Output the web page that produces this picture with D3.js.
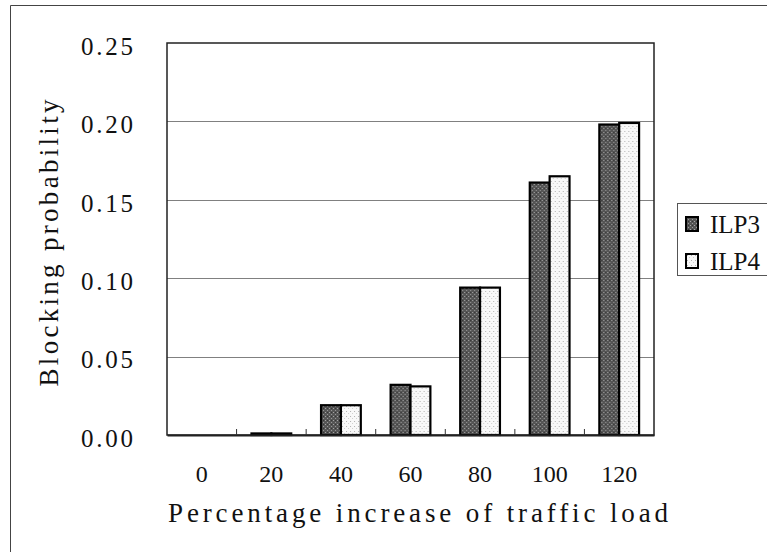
<!DOCTYPE html>
<html>
<head>
<meta charset="utf-8">
<script src="https://cdn.jsdelivr.net/npm/d3@7"></script>
<style>
    body { margin: 0; background: #fff; }
    svg text { font-family: "Liberation Serif", "DejaVu Serif", serif; fill: #111; }
</style>
</head>
<body>
<div id="chart"></div>
<script>
// Chart data
var categories = ['0', '20', '40', '60', '80', '100', '120'];
var seriesNames = ['ILP3', 'ILP4'];
var ilp3Values = [0, 0.001, 0.019, 0.032, 0.094, 0.161, 0.198];
var ilp4Values = [0, 0.001, 0.019, 0.031, 0.094, 0.165, 0.199];
var yTicks = [0, 0.05, 0.10, 0.15, 0.20, 0.25];

var width = 767, height = 552;
var plot = {left: 167, right: 654, top: 43, bottom: 435};

var svg = d3.select('#chart').append('svg')
    .attr('width', width)
    .attr('height', height);

// Stipple patterns for the bars
var defs = svg.append('defs');
var p3 = defs.append('pattern').attr('id', 'fillILP3')
    .attr('patternUnits', 'userSpaceOnUse').attr('width', 4).attr('height', 4);
p3.append('rect').attr('width', 4).attr('height', 4).attr('fill', '#555');
p3.append('rect').attr('x', 0).attr('y', 0).attr('width', 1).attr('height', 1).attr('fill', '#a8a8a8');
p3.append('rect').attr('x', 2).attr('y', 2).attr('width', 1).attr('height', 1).attr('fill', '#9a9a9a');
p3.append('rect').attr('x', 2).attr('y', 0).attr('width', 1).attr('height', 1).attr('fill', '#333');
var p4 = defs.append('pattern').attr('id', 'fillILP4')
    .attr('patternUnits', 'userSpaceOnUse').attr('width', 4).attr('height', 5);
p4.append('rect').attr('width', 4).attr('height', 5).attr('fill', '#f8f8f8');
p4.append('rect').attr('x', 1).attr('y', 1).attr('width', 1).attr('height', 1).attr('fill', '#b0b0b0');
p4.append('rect').attr('x', 3).attr('y', 3).attr('width', 1).attr('height', 1).attr('fill', '#cfcfcf');

// Outer frame
svg.append('path')
    .attr('d', 'M10.5,' + height + 'V5.5H' + width)
    .attr('fill', 'none')
    .attr('stroke', '#444')
    .attr('stroke-width', 1);

// Scales
var x0 = d3.scaleBand()
    .domain(categories)
    .range([plot.left, plot.right])
    .paddingInner(1.5 / 3.5)
    .paddingOuter(0.75 / 3.5);
var x1 = d3.scaleBand()
    .domain(seriesNames)
    .range([0, x0.bandwidth()]);
var y = d3.scaleLinear()
    .domain([0, 0.25])
    .range([plot.bottom, plot.top]);

// Gridlines
svg.append('g')
    .selectAll('line')
    .data(yTicks.filter(function(d) { return d > 0 && d < 0.25; }))
    .enter()
    .append('line')
        .attr('x1', plot.left)
        .attr('x2', plot.right)
        .attr('y1', function(d) { return Math.round(y(d)) + 0.5; })
        .attr('y2', function(d) { return Math.round(y(d)) + 0.5; })
        .attr('stroke', '#808080')
        .attr('stroke-width', 1);

// Plot frame
svg.append('rect')
    .attr('x', plot.left)
    .attr('y', plot.top)
    .attr('width', plot.right - plot.left)
    .attr('height', plot.bottom - plot.top)
    .attr('fill', 'none')
    .attr('stroke', '#222')
    .attr('stroke-width', 1.5);

// Bars
var rows = categories.map(function(c, i) {
    return {cat: c, values: [{name: 'ILP3', v: ilp3Values[i]}, {name: 'ILP4', v: ilp4Values[i]}]};
});
var groups = svg.append('g')
    .selectAll('g')
    .data(rows)
    .enter()
    .append('g')
        .attr('transform', function(d) { return 'translate(' + x0(d.cat) + ',0)'; });
groups.selectAll('rect')
    .data(function(d) { return d.values; })
    .enter()
    .append('rect')
        .attr('x', function(d) { return x1(d.name); })
        .attr('y', function(d) { return y(d.v); })
        .attr('width', x1.bandwidth())
        .attr('height', function(d) { return plot.bottom - y(d.v); })
        .attr('fill', function(d) { return 'url(#fill' + d.name + ')'; })
        .attr('stroke', function(d) { return d.v > 0 ? '#000' : 'none'; })
        .attr('stroke-width', 2.2);

// X axis
var xAxis = d3.axisBottom(x0).tickSize(0).tickPadding(0);
var xg = svg.append('g')
    .attr('transform', 'translate(0,' + plot.bottom + ')')
    .call(xAxis);
xg.select('.domain').attr('stroke', '#222').attr('stroke-width', 2);
xg.selectAll('text').style('font-size', '24px').attr('y', 47).attr('dy', 0);

// Tick marks between categories (pointing up)
svg.append('g')
    .selectAll('line')
    .data(categories.slice(1))
    .enter()
    .append('line')
        .attr('x1', function(d) { return x0(d) - x0.step() * x0.paddingInner() / 2; })
        .attr('x2', function(d) { return x0(d) - x0.step() * x0.paddingInner() / 2; })
        .attr('y1', plot.bottom)
        .attr('y2', plot.bottom - 6)
        .attr('stroke', '#333')
        .attr('stroke-width', 1);

// Y axis
var yAxis = d3.axisLeft(y).tickValues(yTicks).tickSize(0).tickPadding(34)
    .tickFormat(d3.format('.2f'));
var yg = svg.append('g')
    .attr('transform', 'translate(' + plot.left + ',0)')
    .call(yAxis);
yg.select('.domain').remove();
yg.selectAll('text')
    .style('font-size', '25px')
    .attr('dy', '0.45em')
    .attr('textLength', 52)
    .attr('lengthAdjust', 'spacing');

// Axis titles
svg.append('text')
    .attr('x', 418)
    .attr('y', 522)
    .attr('text-anchor', 'middle')
    .attr('textLength', 500)
    .attr('lengthAdjust', 'spacing')
    .style('font-size', '27px')
    .text('Percentage increase of traffic load');
svg.append('text')
    .attr('transform', 'translate(58,243) rotate(-90)')
    .attr('text-anchor', 'middle')
    .attr('textLength', 287)
    .attr('lengthAdjust', 'spacing')
    .style('font-size', '27px')
    .text('Blocking probability');

// Legend
var legend = svg.append('g');
legend.append('rect')
    .attr('x', 677.5)
    .attr('y', 203.5)
    .attr('width', 100)
    .attr('height', 72)
    .attr('fill', '#fff')
    .attr('stroke', '#555')
    .attr('stroke-width', 1);
var items = legend.selectAll('g.item')
    .data(seriesNames)
    .enter()
    .append('g')
        .attr('class', 'item')
        .attr('transform', function(d, i) { return 'translate(686,' + (217 + i * 37) + ')'; });
items.append('rect')
    .attr('width', 12)
    .attr('height', 14)
    .attr('fill', function(d) { return 'url(#fill' + d + ')'; })
    .attr('stroke', '#000')
    .attr('stroke-width', 2);
items.append('text')
    .attr('x', 24)
    .attr('y', 16)
    .style('font-size', '25px')
    .text(function(d) { return d; });
</script>
</body>
</html>
